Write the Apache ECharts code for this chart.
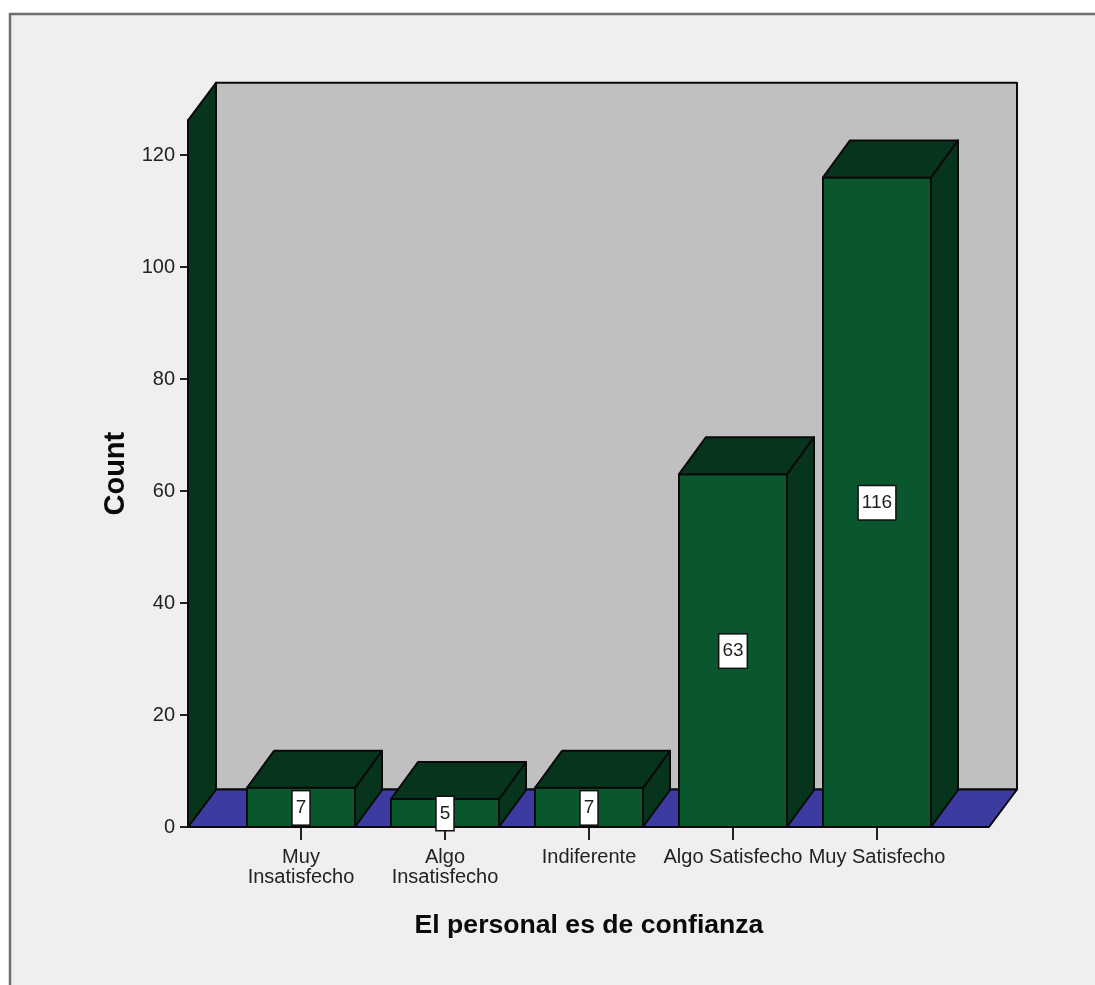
<!DOCTYPE html>
<html>
<head>
<meta charset="utf-8">
<script src="https://cdn.jsdelivr.net/npm/echarts@6/dist/echarts.min.js"></script>
<style>html,body{margin:0;padding:0;background:#fff}#c{width:1095px;height:985px}</style>
</head>
<body>
<div id="c"></div>
<script>
const categories = ['Muy\nInsatisfecho', 'Algo\nInsatisfecho', 'Indiferente', 'Algo Satisfecho', 'Muy Satisfecho'];
const counts = [7, 5, 7, 63, 116];
const yMax = 126.2;
const yStep = 20;

const DX = 27, DY = -37;
const WALL_DX = 28, WALL_DY = -37.5;
const EDGE = '#0a0a0a';
const FRONT = '#0b572d', DARK = '#07341c';
const FLOOR = '#3c3ca0', BACK = '#c0c0c0';
const FONT = '"Liberation Sans", Arial, sans-serif';

function poly(points, fill, z2) {
  return { type: 'polygon', z2: z2 || 0, shape: { points },
    style: { fill, stroke: EDGE, lineWidth: 2, lineJoin: 'round' } };
}

function renderWalls(params, api) {
  const first = api.coord([0, 0]);
  const top = api.coord([0, api.value(1)]);
  const band = api.size([1, 0])[0];
  const x0 = first[0] - band / 2 - 41;
  const x1 = first[0] + band * 4.5 + 40;
  const y0 = first[1], y1 = top[1];
  const bx0 = x0 + WALL_DX, bx1 = x1 + WALL_DX, by0 = y0 + WALL_DY, by1 = y1 + WALL_DY;
  return { type: 'group', children: [
    poly([[bx0, by1], [bx1, by1], [bx1, by0], [bx0, by0]], BACK),
    poly([[x0, y0], [bx0, by0], [bx1, by0], [x1, y0]], FLOOR),
    poly([[x0, y1], [bx0, by1], [bx0, by0], [x0, y0]], DARK)
  ] };
}

function renderBars(params, api) {
  const base = api.coord([api.value(0), 0]);
  const head = api.coord([api.value(0), api.value(1)]);
  const w = api.size([1, 0])[0] * 0.75;
  const l = base[0] - w / 2, r = base[0] + w / 2, b = base[1], t = head[1];
  return { type: 'group', children: [
    poly([[l, t], [r, t], [r, b], [l, b]], FRONT),
    poly([[r, t], [r + DX, t + DY], [r + DX, b + DY], [r, b]], DARK),
    poly([[l, t], [l + DX, t + DY], [r + DX, t + DY], [r, t]], DARK),
    { type: 'text', z2: 5, style: {
      x: base[0], y: (t + b) / 2 + 0.5,
      text: String(api.value(1)), align: 'center', verticalAlign: 'middle',
      fill: '#222', font: '19px ' + FONT,
      backgroundColor: '#fff', borderColor: '#111', borderWidth: 1.5,
      padding: [8, 3, 6, 3]
    } }
  ] };
}

const chart = echarts.init(document.getElementById('c'), null, { renderer: 'canvas' });
chart.setOption({
  animation: false,
  backgroundColor: '#fff',
  graphic: [{
    type: 'rect', z: -1, shape: { x: 10, y: 14, width: 1200, height: 1100 },
    style: { fill: '#efefef', stroke: '#6e6e6e', lineWidth: 2.5 }
  }],
  grid: { left: 229, top: 120.3, width: 720, height: 706.7, containLabel: false },
  xAxis: {
    type: 'category', data: categories,
    name: 'El personal es de confianza', nameLocation: 'middle', nameGap: 85,
    nameTextStyle: { fontFamily: FONT, fontWeight: 'bold', fontSize: 26.6, color: '#0a0a0a' },
    axisLine: { show: true, lineStyle: { color: EDGE, width: 2 } },
    axisTick: { show: true, alignWithLabel: true, length: 13, lineStyle: { color: '#222', width: 2 } },
    axisLabel: { interval: 0, margin: 20, fontFamily: FONT, fontSize: 20, lineHeight: 20, color: '#222', hideOverlap: false }
  },
  yAxis: {
    type: 'value', min: 0, max: yMax, interval: yStep, offset: 41,
    name: 'Count', nameLocation: 'middle', nameGap: 58, nameRotate: 90,
    nameTextStyle: { fontFamily: FONT, fontWeight: 'bold', fontSize: 29, color: '#0a0a0a' },
    splitLine: { show: false },
    axisLine: { show: true, lineStyle: { color: EDGE, width: 2 } },
    axisTick: { show: true, length: 8, lineStyle: { color: '#222', width: 2 } },
    axisLabel: { margin: 13, padding: [11, 0, 0, 0], fontFamily: FONT, fontSize: 20, color: '#222', showMaxLabel: false }
  },
  series: [
    { type: 'custom', z: 1, silent: true, renderItem: renderWalls,
      data: [[0, yMax]], encode: { x: 0, y: 1 } },
    { type: 'custom', z: 2, silent: true, renderItem: renderBars,
      data: counts.map((v, i) => [i, v]), encode: { x: 0, y: 1 } }
  ]
});
</script>
</body>
</html>
